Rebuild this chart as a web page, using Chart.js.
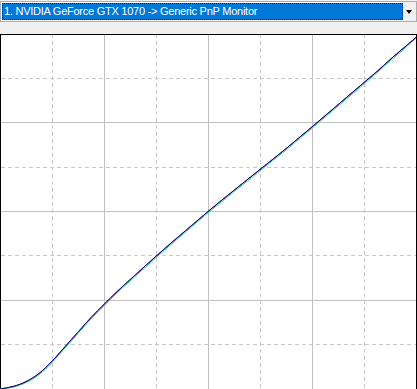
<!DOCTYPE html>
<html>
<head>
<meta charset="utf-8">
<script src="https://cdn.jsdelivr.net/npm/chart.js@4"></script>
<style>
body { margin: 0; background: #f0f0f0; width: 417px; height: 389px; overflow: hidden; position: relative; font-family: "Liberation Sans", Arial, sans-serif; }
#combo { position: absolute; left: 0; top: 1px; width: 415px; height: 19px; border: 1px solid #adadad; background: #fff; }
#sel { position: absolute; left: 1px; top: 1px; width: 398px; height: 15px; background: #0078d7; border: 1px dotted #222; color: #fff; font-size: 11px; letter-spacing: -0.25px; line-height: 15px; padding-left: 1px; white-space: nowrap; overflow: hidden; }
#btn { position: absolute; right: 0; top: 0; width: 13px; height: 19px; background: #f0f0f0; }
#btn:after { content: ""; position: absolute; left: 3px; top: 8px; border-left: 3.5px solid transparent; border-right: 3.5px solid transparent; border-top: 4px solid #000; }
#plot { position: absolute; left: 0; top: 34px; width: 417px; height: 355px; background: #fff; }
</style>
</head>
<body>
<div id="combo">
  <div id="sel">1. NVIDIA GeForce GTX 1070 -&gt; Generic PnP Monitor</div>
  <div id="btn"></div>
</div>
<div id="plot"><canvas id="curveChart" width="417" height="355"></canvas></div>
<script>
// input levels (0-256) and output per channel
const inputLevels = [0, 8, 16, 24, 32, 40, 48, 56, 64, 72, 80, 88, 96, 104, 112, 120, 128,
    136, 144, 152, 160, 168, 176, 184, 192, 200, 208, 216, 224, 232, 240, 248, 256];
const redOut = [0, 1.8, 5.3, 11.2, 20, 30.5, 41, 51.5, 61, 70.2, 78.8, 87.3, 95.7, 104, 112, 120, 128,
    135.7, 143.3, 150.8, 158.3, 165.8, 173.3, 181.2, 189, 197, 205, 213, 221, 229, 237.5, 245.5, 253.5];
const greenOut = [0, 1.3, 4.6, 10.3, 19, 29.5, 40, 50.5, 60, 69.2, 77.8, 86.3, 94.7, 103, 111, 119, 127,
    134.7, 142.3, 149.8, 157.3, 164.8, 172.3, 180.2, 188, 196, 204, 212, 220, 228, 236.5, 244.5, 253];
const blueOut = [0, 1.8, 5.3, 11.2, 20, 30.5, 41, 51.5, 61, 70.2, 78.8, 87.3, 95.7, 104, 112, 120, 128,
    135.7, 143.3, 150.8, 158.3, 165.8, 173.3, 181.2, 189, 197, 205, 213, 221, 229, 237.5, 245.5, 253.5];

function toPoints(values) {
    return inputLevels.map((x, i) => ({ x: x, y: values[i] }));
}

function gridColor(c) {
    if (c.tick && c.tick.value === 256) return '#000';
    return c.tick && c.tick.value % 64 === 0 ? '#c0c0c0' : '#c8c8c8';
}

function gridDash(c) {
    return (c.tick && c.tick.value % 64 !== 0) ? [4, 3] : [];
}

const axis = {
    type: 'linear',
    min: 0,
    max: 256,
    ticks: { display: false, stepSize: 32 },
    grid: { color: gridColor, lineWidth: 1, drawTicks: false },
    border: { display: true, color: '#000', width: 1, dash: gridDash }
};

// first dataset is painted on top, so blue goes first
new Chart(document.getElementById('curveChart'), {
    type: 'line',
    data: {
        datasets: [
            { label: 'Blue', data: toPoints(blueOut), borderColor: '#000080' },
            { label: 'Green', data: toPoints(greenOut), borderColor: '#20d0a0' },
            { label: 'Red', data: toPoints(redOut), borderColor: '#c00040' }
        ]
    },
    options: {
        responsive: false,
        animation: false,
        elements: {
            line: { borderWidth: 1, cubicInterpolationMode: 'monotone' },
            point: { radius: 0 }
        },
        layout: { padding: { left: 0, top: 0, right: 1, bottom: 0 }, autoPadding: false },
        plugins: { legend: { display: false }, tooltip: { enabled: false } },
        scales: { x: axis, y: axis }
    }
});
</script>
</body>
</html>
